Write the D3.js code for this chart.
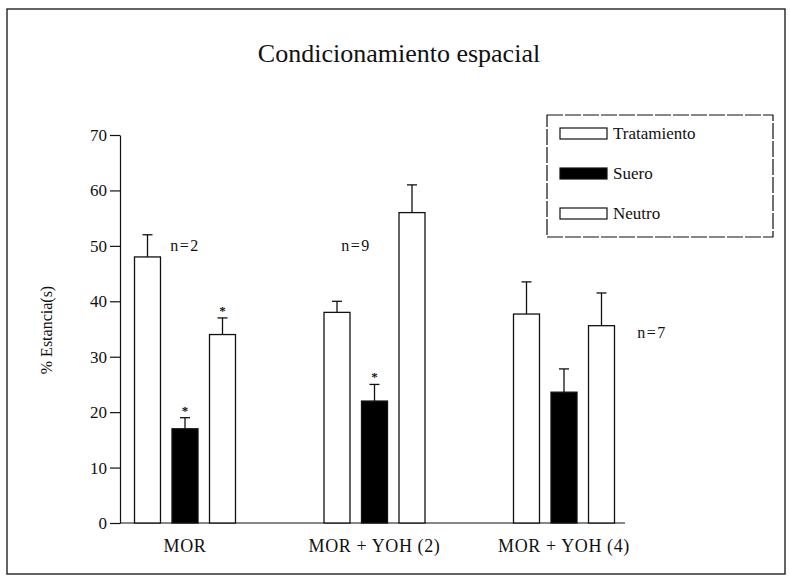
<!DOCTYPE html>
<html>
<head>
<meta charset="utf-8">
<script src="https://cdn.jsdelivr.net/npm/d3@7"></script>
<style>
    body { margin: 0; background: #fff; }
    svg text { font-family: "Liberation Serif", "DejaVu Serif", serif; fill: #111; }
</style>
</head>
<body>
<div id="chart"></div>
<script>
// Data
var groups = ["MOR", "MOR + YOH (2)", "MOR + YOH (4)"];
var series = ["Tratamiento", "Suero", "Neutro"];
var tratamiento = [48, 38, 37.7];
var suero = [17, 22, 23.6];
var neutro = [34, 56, 35.6];
var tratamientoErr = [52, 40, 43.5];
var sueroErr = [19, 25, 27.8];
var neutroErr = [37, 61, 41.5];
var sueroStar = [true, true, false];
var neutroStar = [true, false, false];
var nLabels = ["n=2", "n=9", "n=7"];
var yTicks = [0, 10, 20, 30, 40, 50, 60, 70];

function init() {
    var w = 790;
    var h = 577;

    var svg = d3.select("#chart")
        .append("svg")
        .attr("width", w)
        .attr("height", h);

    // outer frame
    svg.append("rect")
        .attr("x", 7)
        .attr("y", 9)
        .attr("width", 778)
        .attr("height", 565)
        .attr("fill", "none")
        .attr("stroke", "#111")
        .attr("stroke-width", 1.3);

    // title
    svg.append("text")
        .attr("x", 399)
        .attr("y", 62)
        .attr("text-anchor", "middle")
        .style("font-size", "26px")
        .text("Condicionamiento espacial");

    var yScale = d3.scaleLinear()
        .domain([0, 70])
        .range([523, 135]);

    var x0 = d3.scaleBand()
        .domain(groups)
        .range([90.25, 658.75]);

    var x1 = d3.scaleBand()
        .domain(series)
        .range([-56.25, 56.25])
        .paddingInner(0.307)
        .paddingOuter(0.1535);

    // y axis
    var yAxis = d3.axisLeft(yScale)
        .tickValues(yTicks)
        .tickSize(10)
        .tickSizeOuter(0)
        .tickPadding(3);

    var gy = svg.append("g")
        .attr("transform", "translate(120,0)")
        .call(yAxis);
    gy.select(".domain").attr("stroke", "#111").attr("stroke-width", 1.2);
    gy.selectAll(".tick line").attr("stroke", "#111").attr("stroke-width", 1.2);
    gy.selectAll(".tick text")
        .style("font-size", "17px")
        .style("font-family", "'Liberation Serif', serif");

    // x axis line with group labels
    svg.append("line")
        .attr("x1", 120)
        .attr("x2", 625)
        .attr("y1", yScale(0))
        .attr("y2", yScale(0))
        .attr("stroke", "#111")
        .attr("stroke-width", 1.2);

    svg.selectAll(".x-label")
        .data(groups)
        .enter()
        .append("text")
        .attr("class", "x-label")
        .attr("x", d => x0(d) + x0.bandwidth() / 2)
        .attr("y", 552)
        .attr("text-anchor", "middle")
        .style("font-size", "18px")
        .style("letter-spacing", "0.6px")
        .text(d => d);

    // y axis title
    svg.append("text")
        .attr("transform", "translate(52,330) rotate(-90)")
        .attr("text-anchor", "middle")
        .style("font-size", "16px")
        .text("% Estancia(s)");

    // build rows for the bars
    var rows = [];
    groups.forEach((g, i) => {
        rows.push({ group: g, key: "Tratamiento", value: tratamiento[i], err: tratamientoErr[i], star: false });
        rows.push({ group: g, key: "Suero", value: suero[i], err: sueroErr[i], star: sueroStar[i] });
        rows.push({ group: g, key: "Neutro", value: neutro[i], err: neutroErr[i], star: neutroStar[i] });
    });

    var cx = d => x0(d.group) + x0.bandwidth() / 2 + x1(d.key) + x1.bandwidth() / 2;

    // error bars
    svg.selectAll(".err")
        .data(rows)
        .enter()
        .append("line")
        .attr("class", "err")
        .attr("x1", cx)
        .attr("x2", cx)
        .attr("y1", d => yScale(d.value))
        .attr("y2", d => yScale(d.err))
        .attr("stroke", "#111")
        .attr("stroke-width", 1.3);

    svg.selectAll(".err-cap")
        .data(rows)
        .enter()
        .append("line")
        .attr("class", "err-cap")
        .attr("x1", d => cx(d) - 5)
        .attr("x2", d => cx(d) + 5)
        .attr("y1", d => yScale(d.err))
        .attr("y2", d => yScale(d.err))
        .attr("stroke", "#111")
        .attr("stroke-width", 1.3);

    // bars
    svg.selectAll(".bar")
        .data(rows)
        .enter()
        .append("rect")
        .attr("class", "bar")
        .attr("x", d => x0(d.group) + x0.bandwidth() / 2 + x1(d.key))
        .attr("y", d => yScale(d.value))
        .attr("width", x1.bandwidth())
        .attr("height", d => yScale(0) - yScale(d.value))
        .attr("fill", d => d.key === "Suero" ? "#000" : "#fff")
        .attr("stroke", "#111")
        .attr("stroke-width", 1.3);

    // significance marks
    svg.selectAll(".star")
        .data(rows.filter(d => d.star))
        .enter()
        .append("text")
        .attr("class", "star")
        .attr("x", cx)
        .attr("y", d => yScale(d.err) - 3)
        .attr("text-anchor", "middle")
        .style("font-size", "13px")
        .style("font-weight", "bold")
        .text("*");

    // n labels
    var nPos = [[185, 251], [356, 251], [652, 338]];
    svg.selectAll(".n-label")
        .data(nLabels)
        .enter()
        .append("text")
        .attr("class", "n-label")
        .attr("x", (d, i) => nPos[i][0])
        .attr("y", (d, i) => nPos[i][1])
        .attr("text-anchor", "middle")
        .style("font-size", "16px")
        .style("letter-spacing", "1.5px")
        .text(d => d);

    // legend
    var legend = svg.append("g")
        .attr("transform", "translate(547,115)");

    legend.append("rect")
        .attr("width", 226)
        .attr("height", 122)
        .attr("fill", "#fff")
        .attr("stroke", "#111")
        .attr("stroke-width", 1.2)
        .attr("stroke-dasharray", "16,2");

    var items = legend.selectAll(".item")
        .data(series)
        .enter()
        .append("g")
        .attr("class", "item")
        .attr("transform", (d, i) => `translate(13,${13 + i * 40})`);

    items.append("rect")
        .attr("width", 47)
        .attr("height", 11)
        .attr("fill", d => d === "Suero" ? "#000" : "#fff")
        .attr("stroke", "#111")
        .attr("stroke-width", 1.2);

    items.append("text")
        .attr("x", 53)
        .attr("y", 11)
        .style("font-size", "17px")
        .text(d => d);
}

window.onload = init;
</script>
</body>
</html>
